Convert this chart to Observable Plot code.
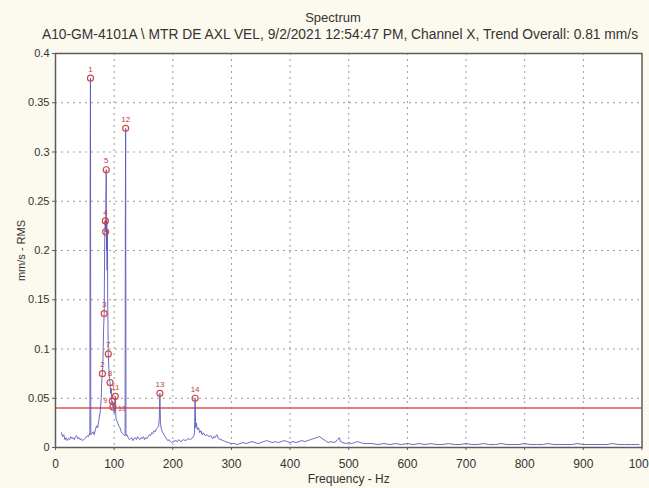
<!DOCTYPE html>
<html>
<head>
<meta charset="utf-8">
<script src="https://cdn.jsdelivr.net/npm/d3@7"></script>
<script src="https://cdn.jsdelivr.net/npm/@observablehq/plot@0.6"></script>
<style>
  html, body { margin: 0; padding: 0; background: #fcf9ef; }
  #wrap { width: 649px; height: 488px; overflow: hidden; position: relative; font-family: "Liberation Sans", Arial, sans-serif; color: #333; }
  #title { position: absolute; left: 0; width: 666px; top: 10px; text-align: center; font-size: 13px; line-height: 16px; }
  #subtitle { position: absolute; left: 0; width: 680px; top: 27px; text-align: center; font-size: 13.8px; line-height: 16px; white-space: nowrap; }
  #chart { position: absolute; left: 0; top: 44px; }
</style>
</head>
<body>
<div id="wrap">
  <div id="title">Spectrum</div>
  <div id="subtitle">A10-GM-4101A \ MTR DE AXL VEL, 9/2/2021 12:54:47 PM, Channel X, Trend Overall: 0.81 mm/s</div>
  <div id="chart"></div>
</div>
<script>
// Spectrum frequencies (Hz) and amplitudes (mm/s RMS)
const freqHz = [
  10,12,14,16,18,20,22,24,26,28,30,32,34,36,38,40,42,44,46,48,50,52,54,56,58,58.6,59.1,59.6,60.2,
  62,64,66,68,70,72,74,76,78,79,80,81,82,83,84,85,85.5,86,86.5,87,87.5,88,88.5,89,90,91,92,93,94,95,96,97,98,99,100,101,102,103,104,106,108,110,112,114,116,118,
  118.6,119.1,119.6,120.2,122,124,126,128,130,132,134,136,138,140,142,144,146,148,150,152,154,156,158,160,162,164,166,168,170,172,174,176,177,178,179,180,182,184,186,188,190,192,194,196,198,
  200,205,208,210,214,218,222,226,230,234,236,237,238,239,240,242,244,246,248,250,252,255,258,262,265,268,270,272,275,278,282,286,290,295,
  300,305,310,315,320,325,330,335,340,345,350,355,360,365,370,375,380,385,390,395,400,405,410,415,420,425,430,435,440,445,450,455,460,465,470,475,480,484,486,490,495,
  500,505,510,515,520,525,530,540,550,560,570,580,590,600,610,620,630,640,650,660,670,680,690,700,710,720,730,740,750,760,770,780,790,800,810,820,830,840,850,860,870,880,890,900,910,920,930,940,950,960,970,980,990,995
];
const ampRms = [
  0.015,0.011,0.013,0.008,0.010,0.007,0.009,0.008,0.011,0.009,0.010,0.008,0.011,0.012,0.009,0.010,0.008,0.009,0.007,0.008,0.009,0.010,0.012,0.011,0.014,0.013,0.275,0.375,0.013,
  0.014,0.016,0.013,0.018,0.022,0.020,0.028,0.035,0.050,0.070,0.075,0.090,0.120,0.136,0.220,0.230,0.219,0.258,0.282,0.200,0.230,0.180,0.220,0.150,0.095,0.080,0.070,0.066,0.055,0.060,0.045,0.047,0.041,0.045,0.035,0.040,0.052,0.030,0.028,0.025,0.022,0.020,0.016,0.014,0.013,0.012,
  0.013,0.233,0.324,0.012,0.013,0.010,0.008,0.009,0.010,0.007,0.009,0.010,0.008,0.011,0.009,0.008,0.010,0.009,0.011,0.008,0.010,0.009,0.011,0.013,0.012,0.015,0.014,0.017,0.016,0.019,0.020,0.022,0.030,0.055,0.025,0.020,0.016,0.014,0.012,0.010,0.008,0.007,0.008,0.006,0.005,
  0.006,0.007,0.006,0.008,0.006,0.008,0.007,0.009,0.008,0.010,0.012,0.015,0.050,0.020,0.025,0.018,0.020,0.015,0.017,0.013,0.015,0.012,0.013,0.011,0.012,0.009,0.011,0.010,0.013,0.009,0.008,0.007,0.006,0.005,
  0.004,0.004,0.003,0.004,0.005,0.004,0.005,0.006,0.005,0.004,0.005,0.006,0.007,0.006,0.005,0.006,0.005,0.006,0.007,0.006,0.005,0.006,0.005,0.006,0.007,0.006,0.007,0.008,0.009,0.010,0.011,0.009,0.007,0.005,0.006,0.005,0.007,0.010,0.006,0.005,0.004,
  0.005,0.004,0.005,0.006,0.005,0.004,0.004,0.004,0.003,0.004,0.003,0.004,0.003,0.004,0.003,0.004,0.003,0.004,0.003,0.003,0.004,0.003,0.003,0.004,0.003,0.003,0.004,0.003,0.003,0.004,0.003,0.003,0.003,0.004,0.003,0.003,0.003,0.004,0.003,0.003,0.003,0.003,0.004,0.003,0.003,0.003,0.003,0.003,0.004,0.003,0.003,0.003,0.003,0.003
];

// Labelled peak markers
const peakLabels = ["1","2","3","4","5","6","7","8","9","10","11","12","13","14"];
const peakFreq   = [59.6, 80, 83, 85, 86.5, 85.5, 90, 93, 97, 98, 102, 119.6, 178, 238];
const peakAmp    = [0.375, 0.075, 0.136, 0.230, 0.282, 0.219, 0.095, 0.066, 0.047, 0.041, 0.052, 0.324, 0.055, 0.050];

// Alarm level
const alarmLevel = [0.04];

// Axis ticks
const xTicks = [0,100,200,300,400,500,600,700,800,900,1000];
const yTicks = [0,0.05,0.1,0.15,0.2,0.25,0.3,0.35,0.4];

const spectrum = freqHz.map((f, i) => ({f, a: ampRms[i]}));
const peaks = peakLabels.map((l, i) => ({label: l, f: peakFreq[i], a: peakAmp[i]}));
const crowded = new Set(["9", "10"]);
const peaksMain = peaks.filter(p => !crowded.has(p.label));
const peak9 = peaks.filter(p => p.label === "9");
const peak10 = peaks.filter(p => p.label === "10");

const chart = Plot.plot({
  width: 649,
  height: 444,
  marginLeft: 55,
  marginRight: 7.5,
  marginTop: 9,
  marginBottom: 41,
  style: {background: "transparent", fontFamily: "Liberation Sans, Arial, sans-serif", color: "#333", overflow: "visible"},
  x: {domain: [0, 1000]},
  y: {domain: [0, 0.4]},
  marks: [
    Plot.frame({fill: "white", stroke: "none"}),
    Plot.gridX(xTicks.slice(1, -1), {stroke: "#9a9a9a", strokeOpacity: 1, strokeDasharray: "2,4", strokeWidth: 1}),
    Plot.gridY(yTicks.slice(1, -1), {stroke: "#9a9a9a", strokeOpacity: 1, strokeDasharray: "2,4", strokeWidth: 1}),
    Plot.ruleY(alarmLevel, {stroke: "#e0504a", strokeWidth: 1.5}),
    Plot.line(spectrum, {x: "f", y: "a", stroke: "#5a5ac0", strokeWidth: 1, strokeOpacity: 0.9}),
    Plot.dot(peaks, {x: "f", y: "a", r: 3, stroke: "#d04844", strokeWidth: 1.2, fill: "none"}),
    Plot.text(peaksMain, {x: "f", y: "a", text: "label", dy: -9, fill: "#c0403c", fontSize: 8}),
    Plot.text(peak9, {x: "f", y: "a", text: "label", dx: -7, dy: 0, fill: "#c0403c", fontSize: 7}),
    Plot.text(peak10, {x: "f", y: "a", text: "label", dx: 9, dy: 2, fill: "#c0403c", fontSize: 7}),
    Plot.frame({stroke: "#5c5c5c", strokeWidth: 1.5}),
    Plot.axisX(xTicks, {tickSize: 3, tickPadding: 9, fontSize: 12, stroke: "#5c5c5c", fill: "#333",
      tickFormat: d => String(d),
      label: "Frequency - Hz", labelAnchor: "center", labelArrow: "none", labelOffset: 35}),
    Plot.axisY(yTicks, {tickSize: 3, tickPadding: 3, fontSize: 11, stroke: "#5c5c5c", fill: "#333",
      tickFormat: d => String(+d.toFixed(2)),
      label: "mm/s - RMS", labelAnchor: "center", labelArrow: "none", labelOffset: 38})
  ]
});
document.getElementById("chart").appendChild(chart);
</script>
</body>
</html>
